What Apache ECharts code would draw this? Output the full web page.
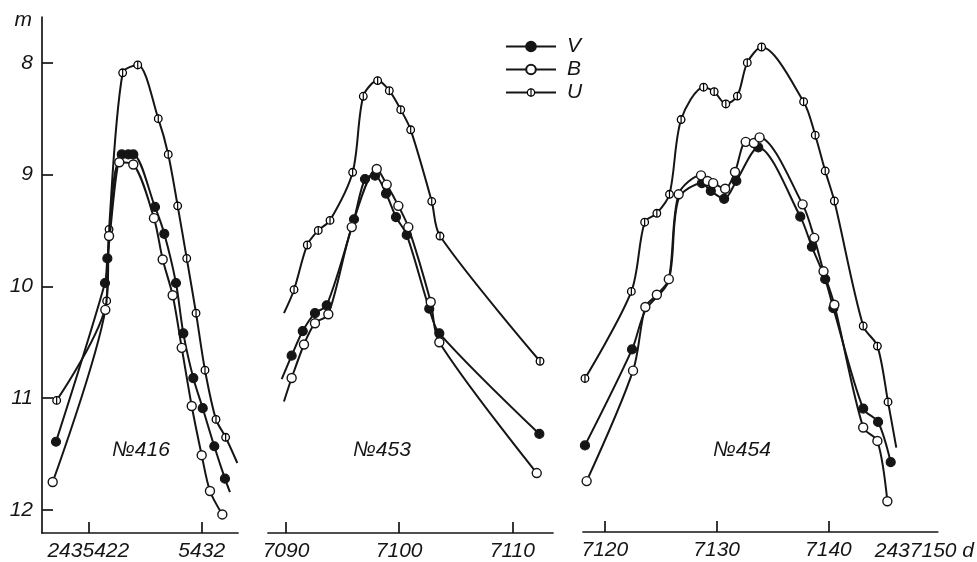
<!DOCTYPE html>
<html><head><meta charset="utf-8">
<script src="https://cdn.jsdelivr.net/npm/echarts@6/dist/echarts.min.js"></script>
<style>html,body{margin:0;padding:0;background:#fff}#c{width:977px;height:562px}</style>
</head><body><div id="c"></div><script>
// x = JD - 2430000, y = magnitude
// ---- Nova No 416 ----
const v416 = [[5419.15,11.39],[5423.47,9.97],[5423.68,9.75],[5424.95,8.82],[5425.53,8.82],[5425.97,8.82],[5427.88,9.29],[5428.70,9.53],[5429.73,9.97],[5430.38,10.42],[5431.26,10.82],[5432.09,11.09],[5433.11,11.43],[5434.05,11.72]];
const v416Ends = [[5434.49,11.84]];
const b416 = [[5418.86,11.75],[5423.50,10.21],[5423.83,9.55],[5424.73,8.89],[5425.97,8.91],[5427.79,9.39],[5428.56,9.76],[5429.44,10.08],[5430.24,10.55],[5431.12,11.07],[5432.00,11.51],[5432.73,11.83],[5433.82,12.04]];
const u416 = [[5419.21,11.02],[5423.62,10.13],[5423.83,9.49],[5425.03,8.09],[5426.36,8.02],[5428.17,8.50],[5429.05,8.82],[5429.88,9.28],[5430.68,9.75],[5431.50,10.24],[5432.29,10.75],[5433.26,11.19],[5434.11,11.35]];
const u416Ends = [[5435.14,11.58]];
// ---- Nova No 453 ----
const v453 = [[7090.50,10.62],[7091.48,10.40],[7092.56,10.24],[7093.60,10.17],[7096.01,9.40],[7096.98,9.04],[7097.87,9.01],[7098.84,9.17],[7099.72,9.38],[7100.67,9.54],[7102.66,10.20],[7103.55,10.42],[7112.39,11.32]];
const v453Ends = [[7089.62,10.83]];
const b453 = [[7090.50,10.82],[7091.59,10.52],[7092.56,10.33],[7093.74,10.25],[7095.81,9.47],[7098.02,8.95],[7098.90,9.09],[7099.93,9.28],[7100.81,9.47],[7102.79,10.14],[7103.55,10.50],[7112.16,11.67]];
const b453Ends = [[7089.82,11.03]];
const u453 = [[7090.71,10.03],[7091.88,9.63],[7092.85,9.50],[7093.89,9.41],[7095.89,8.98],[7096.83,8.30],[7098.10,8.16],[7099.13,8.25],[7100.14,8.42],[7101.02,8.60],[7102.88,9.24],[7103.61,9.55],[7112.45,10.67]];
const u453Ends = [[7089.82,10.24]];
// ---- Nova No 454 ----
const v454 = [[7118.22,11.43],[7122.43,10.57],[7128.68,9.08],[7129.48,9.15],[7130.67,9.22],[7131.76,9.06],[7133.72,8.76],[7137.48,9.38],[7138.52,9.65],[7139.71,9.94],[7140.44,10.20],[7143.11,11.10],[7144.44,11.22],[7145.57,11.58]];
const v454Ends = [[7123.62,10.22],[7125.69,9.96],[7126.60,9.22]];
const b454 = [[7118.37,11.75],[7122.52,10.76],[7123.62,10.19],[7124.65,10.08],[7125.72,9.94],[7126.60,9.18],[7128.60,9.01],[7129.18,9.06],[7129.69,9.08],[7130.76,9.13],[7131.64,8.98],[7132.60,8.71],[7133.33,8.72],[7133.84,8.67],[7137.69,9.27],[7138.73,9.57],[7139.56,9.87],[7140.53,10.17],[7143.11,11.27],[7144.38,11.39],[7145.27,11.93]];
const u454 = [[7118.22,10.83],[7122.37,10.05],[7123.56,9.43],[7124.65,9.35],[7125.78,9.18],[7126.82,8.51],[7128.83,8.22],[7129.78,8.26],[7130.82,8.37],[7131.85,8.30],[7132.74,8.00],[7134.02,7.86],[7137.78,8.35],[7138.82,8.65],[7139.71,8.97],[7140.53,9.24],[7143.11,10.36],[7144.38,10.54],[7145.33,11.04]];
const u454Ends = [[7146.07,11.45]];

const panelNames = ['№416', '№453', '№454'];
const xTicks = [[5422, 5432], [7090, 7100, 7110], [7120, 7130, 7140]];
const xTickLabels = [['2435422', '5432'], ['7090', '7100', '7110'], ['7120', '7130', '7140']];
const yTicks = [8, 9, 10, 11, 12];
const endLabel = '2437150 d';

const FONT = 'Liberation Sans';
const INK = '#151515';
const uSvg = "<svg xmlns='http://www.w3.org/2000/svg' width='20' height='20' viewBox='0 0 20 20'><circle cx='10' cy='10' r='7.6' fill='white' stroke='black' stroke-width='2.6'/><line x1='10' y1='2.4' x2='10' y2='17.6' stroke='black' stroke-width='2.4'/></svg>";
const uSymbol = 'image://data:image/svg+xml;charset=utf-8,' + encodeURIComponent(uSvg);

function pts(marked, bare) {
  return marked.map(p => ({ value: p }))
    .concat((bare || []).map(p => ({ value: p, symbol: 'none' })))
    .sort((a, b) => a.value[0] - b.value[0]);
}

const grids = [
  { left: 42, top: 17, width: 196, height: 516 },
  { left: 268, top: 17, width: 285, height: 516 },
  { left: 583, top: 17, width: 357, height: 516 }
];
const xRanges = [[5417.917, 5435.201], [7088.409, 7113.597], [7118.044, 7149.777]];
const yRange = [7.591, 12.206];

const labelStyle = { fontSize: 21, fontStyle: 'italic', fontFamily: FONT, color: INK };
const axisLineStyle = { color: INK, width: 1.7 };

const xAxes = grids.map((g, i) => {
  const ax = {
    type: 'value', gridIndex: i, min: xRanges[i][0], max: xRanges[i][1],
    axisLine: { show: true, onZero: false, lineStyle: axisLineStyle },
    axisTick: { show: true, inside: true, length: 11, customValues: xTicks[i], lineStyle: axisLineStyle },
    axisLabel: Object.assign({ customValues: xTicks[i], margin: 8,
      formatter: v => { const k = xTicks[i].indexOf(Math.round(v)); return k >= 0 ? xTickLabels[i][k] : ''; } }, labelStyle),
    splitLine: { show: false }
  };
  if (i === 2) {
    ax.name = endLabel;
    ax.nameLocation = 'end';
    ax.nameGap = -63;
    ax.nameTextStyle = Object.assign({ align: 'left', verticalAlign: 'top', padding: [9, 0, 0, 0] }, labelStyle);
  }
  return ax;
});

const yAxes = grids.map((g, i) => ({
  type: 'value', gridIndex: i, inverse: true, min: yRange[0], max: yRange[1], show: i === 0,
  axisLine: { show: true, onZero: false, lineStyle: axisLineStyle },
  axisTick: { show: true, inside: true, length: 11, customValues: yTicks, lineStyle: axisLineStyle },
  axisLabel: Object.assign({ customValues: yTicks, margin: 9 }, labelStyle),
  splitLine: { show: false },
  name: i === 0 ? 'm' : '', nameLocation: 'start', nameGap: -3,
  nameTextStyle: Object.assign({ align: 'right', verticalAlign: 'middle', padding: [0, 10, 0, 0] }, labelStyle)
}));

const bandDefs = {
  V: { symbol: 'circle', itemStyle: { color: INK, borderColor: INK, borderWidth: 1.2 } },
  B: { symbol: 'circle', itemStyle: { color: '#fff', borderColor: INK, borderWidth: 1.4 } },
  U: { symbol: uSymbol, itemStyle: { color: '#fff', borderColor: INK, borderWidth: 1.4 } }
};
const panelData = [
  { V: pts(v416, v416Ends), B: pts(b416), U: pts(u416, u416Ends) },
  { V: pts(v453, v453Ends), B: pts(b453, b453Ends), U: pts(u453, u453Ends) },
  { V: pts(v454, v454Ends), B: pts(b454), U: pts(u454, u454Ends) }
];

const series = [];
panelData.forEach((pd, i) => {
  ['U', 'V', 'B'].forEach((band, k) => {
    series.push({
      type: 'line', name: band, xAxisIndex: i, yAxisIndex: i,
      data: pd[band], smooth: 0.3,
      symbol: bandDefs[band].symbol, symbolSize: band === 'U' ? 10 : 9, showSymbol: true,
      lineStyle: { color: INK, width: 2 },
      itemStyle: bandDefs[band].itemStyle,
      emphasis: { disabled: true }, silent: true, z: 2 + k
    });
  });
});

const option = {
  backgroundColor: '#ffffff',
  animation: false,
  grid: grids,
  xAxis: xAxes,
  yAxis: yAxes,
  legend: {
    data: ['V', 'B', 'U'], orient: 'vertical', left: 505, top: 36,
    itemWidth: 50, itemHeight: 12, itemGap: 2, padding: 0,
    textStyle: Object.assign({ lineHeight: 21, padding: [0, 0, 0, 6] }, labelStyle),
    selectedMode: false
  },
  graphic: [
    { type: 'text', x: 141, y: 450, style: { text: panelNames[0], fill: INK, font: 'italic 21px ' + FONT, align: 'center', verticalAlign: 'middle' } },
    { type: 'text', x: 382, y: 450, style: { text: panelNames[1], fill: INK, font: 'italic 21px ' + FONT, align: 'center', verticalAlign: 'middle' } },
    { type: 'text', x: 742, y: 450, style: { text: panelNames[2], fill: INK, font: 'italic 21px ' + FONT, align: 'center', verticalAlign: 'middle' } }
  ],
  series: series
};

const chart = echarts.init(document.getElementById('c'));
chart.setOption(option);
</script></body></html>
